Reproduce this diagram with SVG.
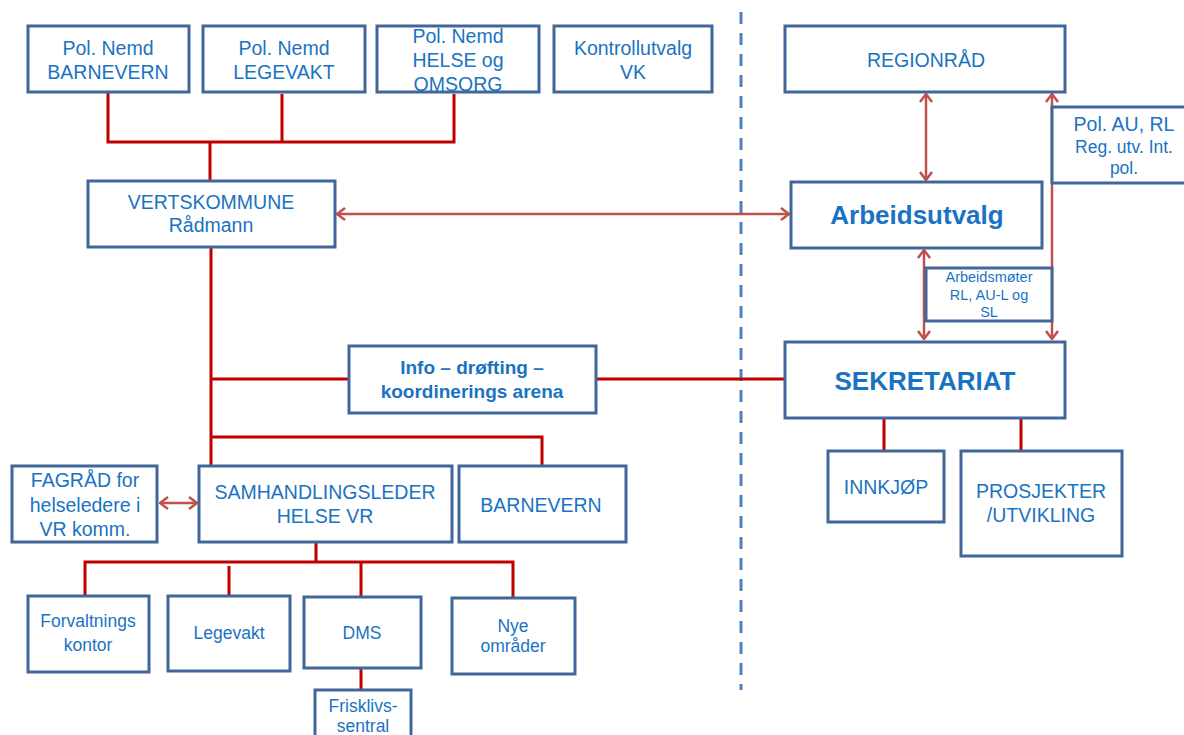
<svg xmlns="http://www.w3.org/2000/svg" width="1184" height="735" viewBox="0 0 1184 735">
<style>
.box{fill:#fff;stroke:#41679a;stroke-width:3}
text{font-family:"Liberation Sans",Arial,sans-serif;fill:#1a73c2;text-anchor:middle}
.t{font-size:19.5px}
.s{font-size:17.5px}
.b{font-weight:bold}
.ln{fill:none;stroke:#c00000;stroke-width:3}
.ar{fill:none;stroke:#c0504d;stroke-width:2.5}
.dash{stroke:#4f81bd;stroke-width:3;stroke-dasharray:12 9}
</style>
<defs>
<marker id="ah" viewBox="0 0 10 14" refX="9" refY="7" markerWidth="10" markerHeight="14" markerUnits="userSpaceOnUse" orient="auto-start-reverse">
<path d="M1,1 L9,7 L1,13" fill="none" stroke="#c0504d" stroke-width="2.5"/>
</marker>
</defs>
<rect width="1184" height="735" fill="#fff"/>
<line class="dash" x1="741" y1="12" x2="741" y2="690"/>
<g id="connectors">
<path class="ln" d="M108,92 V142 H454 V94 M282,94 V142 M210,142 V181"/>
<path class="ln" d="M211,247 V466 M211,379 H348 M596,379 H785 M211,437 H542 V466"/>
<path class="ln" d="M316,541 V562 M85,596 V562 H513 V597 M229,566 V595 M361,562 V596 M361,668 V690"/>
<path class="ln" d="M884,418 V451 M1021,418 V451"/>
<line class="ar" x1="337" y1="214" x2="789" y2="214" marker-start="url(#ah)" marker-end="url(#ah)"/>
<line class="ar" x1="926" y1="94" x2="926" y2="180" marker-start="url(#ah)" marker-end="url(#ah)"/>
<line class="ar" x1="924" y1="250" x2="924" y2="339" marker-start="url(#ah)" marker-end="url(#ah)"/>
<line class="ar" x1="1052" y1="94" x2="1052" y2="339" marker-start="url(#ah)" marker-end="url(#ah)"/>
<line class="ar" x1="160" y1="503" x2="197" y2="503" marker-start="url(#ah)" marker-end="url(#ah)"/>
</g>
<g id="n1"><rect class="box" x="28" y="26" width="161" height="66"/><text class="t" x="108" y="55">Pol. Nemd</text><text class="t" x="108" y="79">BARNEVERN</text></g>
<g id="n2"><rect class="box" x="203" y="26" width="162" height="66"/><text class="t" x="284" y="55">Pol. Nemd</text><text class="t" x="284" y="79">LEGEVAKT</text></g>
<g id="n3"><rect class="box" x="377" y="26" width="162" height="66"/><text class="t" x="458" y="43">Pol. Nemd</text><text class="t" x="458" y="67">HELSE og</text><text class="t" x="458" y="91">OMSORG</text></g>
<g id="n4"><rect class="box" x="554" y="26" width="158" height="66"/><text class="t" x="633" y="55">Kontrollutvalg</text><text class="t" x="633" y="79">VK</text></g>
<g id="n5"><rect class="box" x="88" y="181" width="247" height="66"/><text class="t" x="211" y="209">VERTSKOMMUNE</text><text class="t" x="211" y="232">Rådmann</text></g>
<g id="n6"><rect class="box" x="785" y="26" width="280" height="66"/><text class="t" x="926" y="67">REGIONRÅD</text></g>
<g id="n7"><rect class="box" x="1052" y="107" width="150" height="76"/><text class="t" x="1124" y="131">Pol. AU, RL</text><text x="1124" y="153" style="font-size:17.5px">Reg. utv. Int.</text><text x="1124" y="174" style="font-size:17.5px">pol.</text></g>
<g id="n8"><rect class="box" x="791" y="182" width="251" height="66"/><text class="b" x="917" y="224" style="font-size:26px">Arbeidsutvalg</text></g>
<g id="n9"><rect class="box" x="926" y="268" width="126" height="53"/><text x="989" y="282" style="font-size:14.5px">Arbeidsmøter</text><text x="989" y="300" style="font-size:14.5px">RL, AU-L og</text><text x="989" y="317" style="font-size:14.5px">SL</text></g>
<g id="n10"><rect class="box" x="785" y="342" width="280" height="76"/><text class="b" x="925" y="390" style="font-size:26px">SEKRETARIAT</text></g>
<g id="n11"><rect class="box" x="828" y="451" width="116" height="71"/><text class="t" x="886" y="494">INNKJØP</text></g>
<g id="n12"><rect class="box" x="961" y="451" width="161" height="105"/><text class="t" x="1041" y="498">PROSJEKTER</text><text class="t" x="1041" y="522">/UTVIKLING</text></g>
<g id="n13"><rect class="box" x="349" y="346" width="247" height="67"/><text class="b" x="472" y="374" style="font-size:19px">Info – drøfting –</text><text class="b" x="472" y="398" style="font-size:19px">koordinerings arena</text></g>
<g id="n14"><rect class="box" x="12" y="466" width="145" height="76"/><text class="t" x="85" y="487">FAGRÅD for</text><text class="t" x="85" y="512">helseledere i</text><text class="t" x="85" y="536">VR komm.</text></g>
<g id="n15"><rect class="box" x="199" y="466" width="253" height="76"/><text class="t" x="325" y="499">SAMHANDLINGSLEDER</text><text class="t" x="325" y="523">HELSE VR</text></g>
<g id="n16"><rect class="box" x="459" y="466" width="167" height="76"/><text class="t" x="541" y="512">BARNEVERN</text></g>
<g id="n17"><rect class="box" x="28" y="596" width="121" height="76"/><text class="s" x="88" y="627">Forvaltnings</text><text class="s" x="88" y="651">kontor</text></g>
<g id="n18"><rect class="box" x="168" y="596" width="122" height="75"/><text class="s" x="229" y="639">Legevakt</text></g>
<g id="n19"><rect class="box" x="304" y="597" width="117" height="71"/><text class="s" x="362" y="639">DMS</text></g>
<g id="n20"><rect class="box" x="452" y="598" width="123" height="76"/><text class="s" x="513" y="632">Nye</text><text class="s" x="513" y="652">områder</text></g>
<g id="n21"><rect class="box" x="315" y="690" width="96" height="50"/><text class="s" x="363" y="712">Frisklivs-</text><text class="s" x="363" y="732">sentral</text></g>
</svg>
